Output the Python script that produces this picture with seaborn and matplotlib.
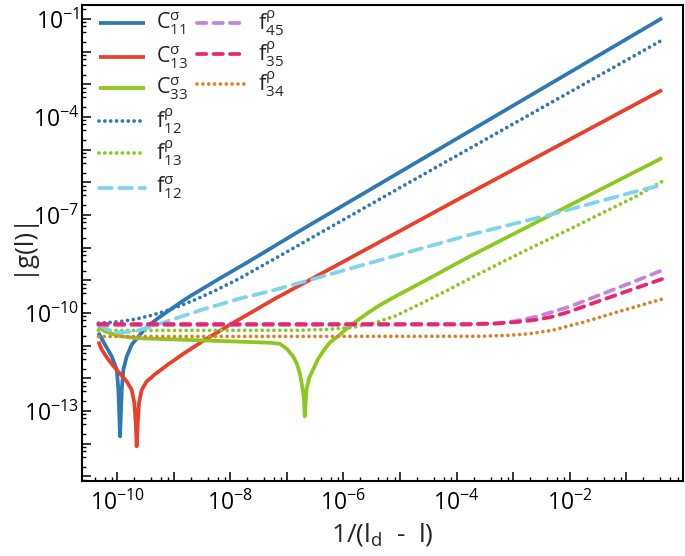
import math
import matplotlib
matplotlib.use("Agg")
import matplotlib.pyplot as plt
import seaborn as sns
import pandas as pd
from matplotlib.ticker import FixedLocator, FuncFormatter, LogLocator, NullFormatter
from matplotlib.lines import Line2D

# ---------------- data ----------------
c11_x = [4.68e-11, 6.14e-11, 8.06e-11, 9.88e-11, 1.054e-10, 1.129e-10, 1.21e-10, 1.29e-10,
         1.48e-10, 1.81e-10, 2.38e-10, 3.12e-10, 4.09e-10, 5.73e-10, 8.61e-10, 1.29e-9,
         1.94e-9, 2.91e-9, 6.56e-9, 2.22e-8, 1.69e-7, 0.427]
c11_y = [2.50e-11, 1.07e-11, 4.71e-12, 1.85e-12, 4.51e-13, 1.68e-14, 4.51e-13, 1.85e-12,
         4.71e-12, 1.07e-11, 1.92e-11, 3.31e-11, 4.94e-11, 7.71e-11, 1.26e-10, 2.07e-10,
         3.27e-10, 4.98e-10, 1.16e-9, 3.97e-9, 3.29e-8, 0.107]

c13_x = [4.68e-11, 5.37e-11, 7.03e-11, 9.22e-11, 1.21e-10, 1.48e-10, 1.81e-10, 2.02e-10,
         2.14e-10, 2.22e-10, 2.32e-10, 2.44e-10, 2.73e-10, 3.34e-10, 4.68e-10, 8.04e-10,
         1.58e-9, 3.56e-9, 9.84e-9, 2.38e-8, 6.12e-8, 1.69e-7, 1.68e-4, 0.427]
c13_y = [1.35e-11, 7.55e-12, 3.73e-12, 2.08e-12, 1.21e-12, 8.09e-13, 4.51e-13, 1.77e-13,
         4.33e-14, 8.32e-15, 4.33e-14, 1.77e-13, 4.51e-13, 8.09e-13, 1.34e-12, 2.72e-12,
         6.11e-12, 1.52e-11, 4.39e-11, 1.06e-10, 2.74e-10, 7.08e-10, 4.68e-7, 6.75e-4]

c33_x = [4.68e-11, 6.14e-11, 1.054e-10, 2.08e-10, 1.58e-9, 1.21e-8, 4.99e-8, 7.50e-8,
         9.95e-8, 1.29e-7, 1.50e-7, 1.69e-7, 1.83e-7, 1.99e-7, 2.07e-7, 2.22e-7,
         2.48e-7, 2.90e-7, 3.51e-7, 4.34e-7, 5.71e-7, 8.57e-7, 1.285e-6, 1.93e-6,
         2.90e-6, 4.35e-6, 8.00e-6, 1.80e-5, 4.98e-5, 1.68e-4, 7.43e-2, 0.427]
c33_y = [3.73e-11, 2.74e-11, 2.02e-11, 1.72e-11, 1.52e-11, 1.35e-11, 1.24e-11, 1.15e-11,
         8.09e-12, 4.71e-12, 2.82e-12, 1.46e-12, 6.89e-13, 2.82e-13, 6.89e-14, 4.51e-13,
         1.05e-12, 1.85e-12, 3.73e-12, 6.70e-12, 1.24e-11, 2.17e-11, 3.94e-11, 6.70e-11,
         1.10e-10, 1.73e-10, 3.15e-10, 6.61e-10, 1.71e-9, 5.38e-9, 1.19e-6, 5.61e-6]

f12r_x = [4.68e-11, 1.054e-10, 2.08e-10, 4.09e-10, 7.03e-10, 1.29e-9, 2.38e-9, 5.35e-9,
          1.47e-8, 7.50e-8, 9.80e-6, 0.427]
f12r_y = [4.88e-11, 5.42e-11, 6.46e-11, 8.57e-11, 1.14e-10, 1.67e-10, 2.55e-10, 4.81e-10,
          1.16e-9, 5.65e-9, 6.79e-7, 2.28e-2]

f13r_x = [4.68e-11, 1.69e-7, 5.71e-7, 1.58e-6, 3.55e-6, 8.00e-6, 2.21e-5, 6.10e-5, 1.68e-4,
          6.50e-4, 2.52e-3, 9.76e-3, 3.78e-2, 0.147, 0.427]
f13r_y = [2.94e-11, 2.98e-11, 3.20e-11, 3.73e-11, 5.05e-11, 7.98e-11, 1.86e-10, 4.48e-10,
          1.12e-9, 3.71e-9, 1.18e-8, 3.65e-8, 1.17e-7, 3.73e-7, 1.07e-6]

f12s_x = [4.68e-11, 7.03e-11, 1.054e-10, 2.08e-10, 6.14e-10, 3.12e-9, 1.58e-8, 5.35e-8,
          1.68e-4, 4.34e-3, 0.112, 0.427]
f12s_y = [4.39e-11, 3.08e-11, 2.55e-11, 2.74e-11, 4.94e-11, 1.26e-10, 2.88e-10, 4.81e-10,
          2.48e-8, 1.01e-7, 4.68e-7, 8.39e-7]

f45_x = [4.68e-11, 1.68e-4, 4.65e-4, 1.04e-3, 2.55e-3, 9.76e-3, 3.78e-2, 0.147, 0.427]
f45_y = [4.24e-11, 4.39e-11, 4.71e-11, 5.61e-11, 7.71e-11, 1.56e-10, 3.89e-10, 9.72e-10, 2.04e-9]

f35_x = [4.68e-11, 1.68e-4, 5.69e-4, 1.28e-3, 2.55e-3, 4.90e-3, 9.76e-3, 3.78e-2, 0.147, 0.427]
f35_y = [4.61e-11, 4.61e-11, 4.88e-11, 5.42e-11, 6.24e-11, 7.71e-11, 1.10e-10, 2.55e-10,
         5.82e-10, 1.10e-9]

f34_x = [4.68e-11, 2.52e-4, 8.53e-4, 1.92e-3, 4.95e-3, 1.92e-2, 7.43e-2, 0.427]
f34_y = [1.92e-11, 1.95e-11, 2.09e-11, 2.33e-11, 2.98e-11, 5.53e-11, 1.12e-10, 2.68e-10]

labels = [r"$\mathrm{C}^{\mathrm{σ}}_{\mathrm{11}}$", r"$\mathrm{C}^{\mathrm{σ}}_{\mathrm{13}}$",
          r"$\mathrm{C}^{\mathrm{σ}}_{\mathrm{33}}$", r"$\mathrm{f}^{\mathrm{ρ}}_{\mathrm{12}}$",
          r"$\mathrm{f}^{\mathrm{ρ}}_{\mathrm{13}}$", r"$\mathrm{f}^{\mathrm{σ}}_{\mathrm{12}}$",
          r"$\mathrm{f}^{\mathrm{ρ}}_{\mathrm{45}}$", r"$\mathrm{f}^{\mathrm{ρ}}_{\mathrm{35}}$",
          r"$\mathrm{f}^{\mathrm{ρ}}_{\mathrm{34}}$"]
xs = [c11_x, c13_x, c33_x, f12r_x, f13r_x, f12s_x, f45_x, f35_x, f34_x]
ys = [c11_y, c13_y, c33_y, f12r_y, f13r_y, f12s_y, f45_y, f35_y, f34_y]

x_tick_labels = [-10, -8, -6, -4, -2]
y_tick_labels = [-1, -4, -7, -10, -13]

# ---------------- styling ----------------
colors = ["#2e78b4", "#e8402a", "#8cc81e", "#2e78b4", "#8cc81e",
          "#7fd4ea", "#c584db", "#e9276e", "#d6862a"]
DOT = (0, (0.01, 1.55))
DASH = (0, (2.5, 1.9))
LDASH = (0, (3.4, 2.0))
styles = ["-", "-", "-", DOT, DOT, LDASH, DASH, DASH, DOT]
LW = 2.7

sns.set_style("ticks")
plt.rcParams.update({
    "font.family": ["Open Sans", "DejaVu Sans"],
    "mathtext.fontset": "custom",
    "mathtext.rm": "Open Sans",
    "mathtext.it": "Open Sans:italic",
    "mathtext.bf": "Open Sans:bold",
    "axes.unicode_minus": False,
})

fig = plt.figure(figsize=(6.85, 5.56), dpi=100)
ax = fig.add_axes([0.1197, 0.1349, 0.8774, 0.856])

for x, y, c, ls in zip(xs, ys, colors, styles):
    df = pd.DataFrame({"x": x, "y": y})
    sns.lineplot(data=df, x="x", y="y", ax=ax, color=c, linestyle=ls, linewidth=LW,
                 sort=False, estimator=None, legend=False,
                 dash_capstyle="round", solid_capstyle="butt")

ax.set_xscale("log")
ax.set_yscale("log")
ax.set_xlim(10 ** -10.62, 10 ** 0.0)
ax.set_ylim(10 ** -15.14, 10 ** -0.57)

ax.xaxis.set_major_locator(FixedLocator([10.0 ** k for k in range(-10, 0)]))
ax.yaxis.set_major_locator(FixedLocator([10.0 ** k for k in range(-15, 0)]))
ax.xaxis.set_minor_locator(LogLocator(base=10, subs=(2, 4, 6, 8), numticks=60))
ax.yaxis.set_minor_locator(LogLocator(base=10, subs=(2, 4, 6, 8), numticks=60))
ax.xaxis.set_minor_formatter(NullFormatter())
ax.yaxis.set_minor_formatter(NullFormatter())


def make_fmt(keep):
    def f(v, pos):
        k = int(round(math.log10(v)))
        if k in keep:
            return r"$\mathregular{10^{%d}}$" % k
        return ""
    return FuncFormatter(f)


ax.xaxis.set_major_formatter(make_fmt(x_tick_labels))
ax.yaxis.set_major_formatter(make_fmt(y_tick_labels))

ax.tick_params(which="both", direction="in", top=False, right=False, labelsize=16.5, colors="black")
ax.tick_params(which="major", length=6.5, width=1.1)
ax.tick_params(which="minor", length=3.2, width=1.0)
ax.tick_params(axis="x", pad=7)
ax.tick_params(axis="y", pad=2)

for s in ax.spines.values():
    s.set_linewidth(1.5)
    s.set_color("black")

ax.set_xlabel(r"1/(l$_\mathregular{d}$  -  l)", fontsize=19)
ax.set_ylabel("|g(l)|", fontsize=18.5)
ax.xaxis.set_label_coords(0.5, -0.085)
ax.yaxis.set_label_coords(-0.08, 0.5)

# ---------------- legend (two columns: 6 + 3 entries) ----------------
col1_rows = [0.9616, 0.8901, 0.8250, 0.7569, 0.6885, 0.6162]
col2_rows = [0.9628, 0.8971, 0.8340]
slots = [(0.0283, 0.1048, 0.1231, r) for r in col1_rows] + \
        [(0.1918, 0.2712, 0.2928, r) for r in col2_rows]
for (x0, x1, xt, yy), lab, c, ls in zip(slots, labels, colors, styles):
    fig.add_artist(Line2D([x0, x1], [yy, yy], transform=ax.transAxes, color=c,
                          linestyle=ls, linewidth=LW, dash_capstyle="round",
                          solid_capstyle="butt"))
    ax.text(xt, yy, lab, transform=ax.transAxes, fontsize=15.5, va="center", ha="left")

fig.savefig("out.png", dpi=100)
